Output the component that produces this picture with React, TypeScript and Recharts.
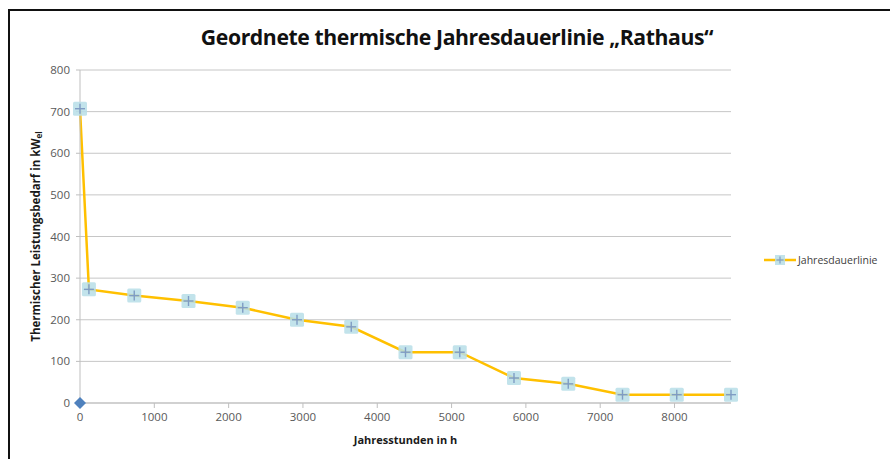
import React from "react";
import {
  ComposedChart,
  Line,
  Scatter,
  XAxis,
  YAxis,
  CartesianGrid,
  Legend,
} from "recharts";

// Sorted annual duration curve (hours of the year vs. thermal load)
const hours = [0, 120, 730, 1460, 2190, 2920, 3650, 4380, 5110, 5840, 6570, 7300, 8030, 8760];
const loadKw = [707, 273, 258, 245, 229, 200, 183, 122, 122, 60, 46, 20, 20, 20];
const originHours = [0];
const originLoad = [0];
const xTicks = [0, 1000, 2000, 3000, 4000, 5000, 6000, 7000, 8000];
const yTicks = [0, 100, 200, 300, 400, 500, 600, 700, 800];

const seriesName = "Jahresdauerlinie";
const titleText = "Geordnete thermische Jahresdauerlinie \u201ERathaus\u201C";
const xLabel = "Jahresstunden in h";
const yLabelMain = "Thermischer Leistungsbedarf in kW";
const yLabelSub = "el";

const curveData = hours.map((h, i) => ({ h, kw: loadKw[i] }));
const originData = originHours.map((h, i) => ({ h, kw: originLoad[i] }));

const FONT = "'Open Sans', 'DejaVu Sans', sans-serif";
const LINE_COLOR = "#FFC000";

const PlusMarker = (props: any) => {
  const { cx, cy } = props;
  if (cx == null || cy == null) return null;
  return (
    <g>
      <rect x={cx - 7} y={cy - 7} width={14} height={14} fill="#B7DEE8" opacity={0.85} rx={1.5} />
      <line x1={cx - 5} y1={cy} x2={cx + 5} y2={cy} stroke="#7F9CC4" strokeWidth={1.4} />
      <line x1={cx} y1={cy - 5} x2={cx} y2={cy + 5} stroke="#7F9CC4" strokeWidth={1.4} />
    </g>
  );
};

const Diamond = (props: any) => {
  const { cx, cy } = props;
  if (cx == null || cy == null) return null;
  return (
    <path
      d={`M${cx},${cy - 6} L${cx + 6},${cy} L${cx},${cy + 6} L${cx - 6},${cy} Z`}
      fill="#4F81BD"
    />
  );
};

const YTitle = (props: any) => {
  const vb = props.viewBox || {};
  const x = 35;
  const y = vb.y + vb.height / 2;
  return (
    <text
      x={x}
      y={y}
      transform={`rotate(-90 ${x} ${y})`}
      textAnchor="middle"
      dominantBaseline="central"
      fontFamily={FONT}
      fontWeight={700}
      fontSize={11.5}
      fill="#1a1a1a"
    >
      {yLabelMain}
      <tspan fontSize={8} dy={3}>
        {yLabelSub}
      </tspan>
    </text>
  );
};

const LegendContent = () => (
  <div style={{ display: "flex", alignItems: "center", fontFamily: FONT, fontSize: 10.5, color: "#404040" }}>
    <svg width={34} height={14} style={{ marginRight: 1 }}>
      <line x1={1} y1={7} x2={33} y2={7} stroke={LINE_COLOR} strokeWidth={2.5} />
      <rect x={12} y={2} width={10} height={10} fill="#B7DEE8" opacity={0.85} />
      <line x1={13.5} y1={7} x2={20.5} y2={7} stroke="#7F9CC4" strokeWidth={1.2} />
      <line x1={17} y1={3.5} x2={17} y2={10.5} stroke="#7F9CC4" strokeWidth={1.2} />
    </svg>
    <span>{seriesName}</span>
  </div>
);

export default function App() {
  return (
    <div style={{ position: "absolute", left: 0, top: 0, width: 890, height: 459, background: "#fff", overflow: "hidden" }}>
      <div
        style={{
          position: "absolute",
          left: 8,
          top: 9,
          width: 890,
          height: 460,
          borderTop: "2.5px solid #111",
          borderLeft: "2.5px solid #111",
          boxSizing: "border-box",
        }}
      />
      <div
        style={{
          position: "absolute",
          left: 0,
          top: 22,
          width: 914,
          textAlign: "center",
          fontFamily: FONT,
          fontWeight: 700,
          fontSize: 21.2,
          letterSpacing: -0.4,
          color: "#111",
          lineHeight: "30px",
        }}
      >
        {titleText}
      </div>
      <div style={{ position: "absolute", left: 0, top: 0 }}>
        <ComposedChart
          width={890}
          height={459}
          margin={{ top: 70, right: 159, bottom: 6, left: 30 }}
        >
          <CartesianGrid vertical={false} stroke="#C6C6C6" strokeWidth={1} />
          <XAxis
            type="number"
            dataKey="h"
            domain={[0, 8760]}
            ticks={xTicks}
            height={50}
            stroke="#BFBFBF"
            tickSize={5}
            tickMargin={5}
            tick={{ fill: "#595959", fontSize: 11.5, fontFamily: FONT }}
            label={{
              value: xLabel,
              position: "insideBottom",
              offset: 9,
              fill: "#1a1a1a",
              fontSize: 11,
              fontWeight: 700,
              fontFamily: FONT,
            }}
          />
          <YAxis
            type="number"
            dataKey="kw"
            domain={[0, 800]}
            ticks={yTicks}
            width={50}
            stroke="#BFBFBF"
            tickSize={4}
            tickMargin={6}
            tick={{ fill: "#595959", fontSize: 11.5, fontFamily: FONT }}
            label={<YTitle />}
          />
          <Legend
            layout="horizontal"
            align="center"
            verticalAlign="middle"
            wrapperStyle={{ left: 763, top: 253, width: 127 }}
            content={<LegendContent />}
          />
          <Line
            data={curveData}
            dataKey="kw"
            name={seriesName}
            stroke={LINE_COLOR}
            strokeWidth={2.5}
            dot={<PlusMarker />}
            activeDot={false}
            isAnimationActive={false}
          />
          <Scatter
            data={originData}
            dataKey="kw"
            legendType="none"
            shape={<Diamond />}
            isAnimationActive={false}
          />
        </ComposedChart>
      </div>
    </div>
  );
}
